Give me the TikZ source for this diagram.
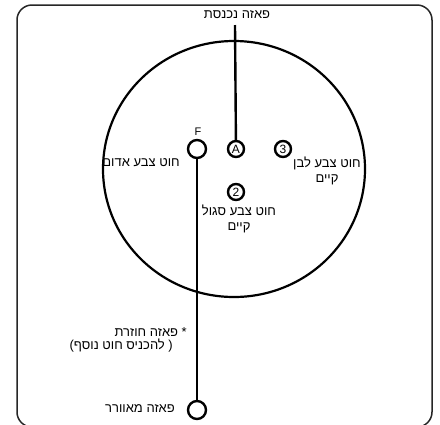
\documentclass[tikz,border=0pt]{standalone}
\usepackage{fontspec}
\setmainfont{Liberation Sans}
\newfontfamily\heb[Script=Hebrew]{Liberation Sans}
\TeXXeTstate=1
\newcommand{\rl}[1]{\beginR #1\endR}
\begin{document}
\begin{tikzpicture}[x=1pt,y=-1pt,
  lbl/.style={font=\heb\fontsize{13}{15}\selectfont, inner sep=0pt, align=center},
  pin/.style={draw, circle, line width=2.4pt, minimum size=18pt, inner sep=0pt, fill=white},
  numpin/.style={pin, minimum size=16pt, font=\fontsize{12}{12}\selectfont},
  wire/.style={line width=2.4pt},
]
\useasboundingbox (0,0) rectangle (440,424);
\fill[white] (0,0) rectangle (440,424);
\draw[line width=1.5pt, black!85, rounded corners=15pt] (17,5) rectangle (432,427);
\draw[line width=2.2pt] (234,169) ellipse [x radius=131pt, y radius=128pt];

\coordinate (in) at (235,25);
\node[pin] (F) at (197,149) {};
\node[numpin] (A) at (236,149) {A};
\node[numpin] (three) at (283,149) {3};
\node[numpin] (two) at (236,192) {2};
\node[pin] (fan) at (197,410) {};

\draw[wire] (in) -- (A);
\draw[wire] (F) -- (fan);

\node[lbl] (tin) at (237,15) {\rl{פאזה נכנסת}};
\node[lbl, font=\fontsize{11}{11}\selectfont] (tF) at (198,132) {F};
\node[lbl, anchor=east] (tred) at (180,163) {\rl{חוט צבע אדום}};
\node[lbl, anchor=north] (twhite) at (327,157) {\rl{חוט צבע לבן}\\\rl{קיים}};
\node[lbl, anchor=north] (tpurple) at (239,205) {\rl{חוט צבע סגול}\\\rl{קיים}};
\node[lbl, anchor=east] (tret) at (187,332) {\rl{* פאזה חוזרת}};
\node[lbl, anchor=east] (tadd) at (173,346) {\rl{( להכניס חוט נוסף)}};
\node[lbl, anchor=east] (tfan) at (175,409) {\rl{פאזה מאוורר}};
\end{tikzpicture}
\end{document}
